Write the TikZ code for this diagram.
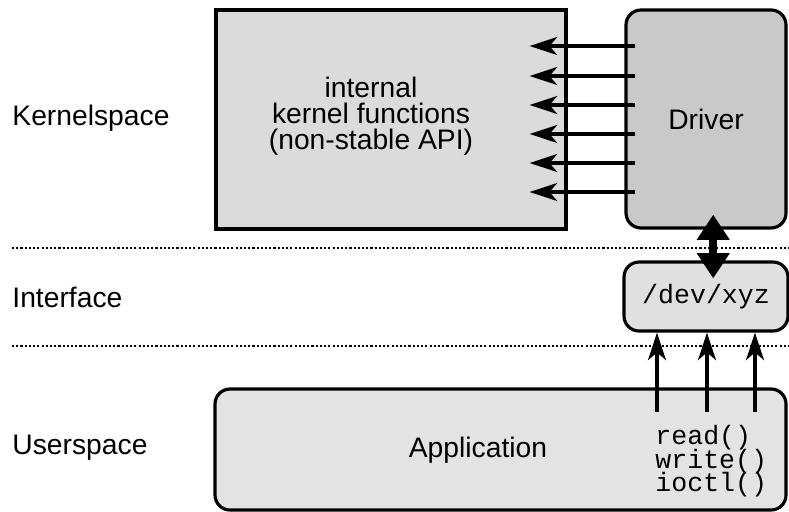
\documentclass[tikz,border=0pt]{standalone}
\usepackage{fontspec}
\setmainfont{Liberation Sans}
\setmonofont{Liberation Mono}
\usetikzlibrary{arrows.meta,calc}

\definecolor{kernelgray}{gray}{0.86}
\definecolor{drivergray}{gray}{0.79}
\definecolor{devgray}{gray}{0.88}
\definecolor{appgray}{gray}{0.89}
\lineskiplimit=-5pt

\begin{document}
\begin{tikzpicture}[scale=1, >={Stealth[length=0.46cm,width=0.3cm,inset=0.13cm]},
        every node/.style={font=\fontsize{13.4}{12.3}\selectfont},
        layer/.style={anchor=west, inner sep=0pt},
        kbox/.style={draw, line width=1.5pt, fill=kernelgray},
        rbox/.style={draw, line width=1.5pt, rounded corners=0.25cm},
        mono/.style={font=\ttfamily\fontsize{12.6}{11.1}\selectfont},
        sep/.style={line width=1.1pt, dash pattern=on 1pt off 1pt},
        call/.style={->, line width=1.6pt},
        bigarrow/.style={{Triangle[length=0.42cm,width=0.52cm]}-{Triangle[length=0.42cm,width=0.52cm]}, line width=0.13cm}]
        \useasboundingbox (0,0) rectangle (13.15,-8.533);
        % ==== LAYERS ====
        \draw[sep] (0.2,-4.133) -- (13.15,-4.133);
        \draw[sep] (0.2,-5.767) -- (13.15,-5.767);
        \node[layer] (kspace) at (0.2,-1.967) {Kernelspace};
        \node[layer] (iface) at (0.2,-4.95) {Interface};
        \node[layer] (uspace) at (0.2,-7.467) {Userspace};
        % ==== BOXES ====
        \node[kbox, minimum width=5.833cm, minimum height=3.65cm] (kernel) at (6.517,-1.992) {};
        \node[align=center] (ktext) at (6.183,-1.93) {internal\\kernel functions\\(non-stable API)};
        \node[rbox, fill=drivergray, minimum width=2.667cm, minimum height=3.633cm] (driver) at (11.767,-1.983) {Driver};
        \node[rbox, fill=devgray, mono, minimum width=2.733cm, minimum height=1.15cm] (dev) at (11.767,-4.942) {/dev/xyz};
        \node[rbox, fill=appgray, minimum width=9.517cm, minimum height=2.017cm] (app) at (8.342,-7.492) {};
        \node (apptext) at (7.967,-7.5) {Application};
        \node[mono, align=left, anchor=north west, inner xsep=0pt, inner ysep=0.22cm] (syscalls) at (10.917,-6.867) {read()\\write()\\ioctl()};
        % ==== ARROWS ====
        \foreach \y in {0.767,1.267,1.75,2.233,2.717,3.2}
            \draw[call] ($(driver.west |- 0,-\y)+(0.17,0)$) -- ($(kernel.east |- 0,-\y)+(-0.633,0)$);
        \draw[bigarrow] ($(driver.south)+(0.12,0.25)$) -- ($(dev.north)+(0.12,-0.3)$);
        \foreach \x in {10.95,11.783,12.583}
            \draw[call] (syscalls.north -| \x,0) -- (dev.south -| \x,0);
\end{tikzpicture}
\end{document}
